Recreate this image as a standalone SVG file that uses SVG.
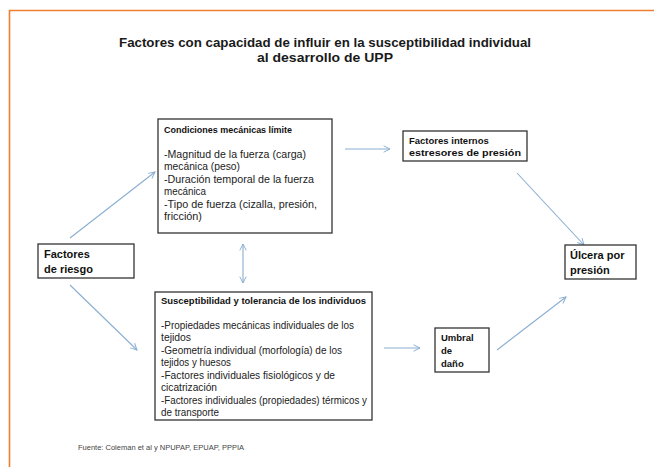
<svg xmlns="http://www.w3.org/2000/svg" width="654" height="467" viewBox="0 0 654 467">
<style>
.t{font-family:"Liberation Sans",Arial,sans-serif;fill:#111}
.ttl{font-size:13.5px;font-weight:bold;fill:#1a1a1a}
.b{font-size:9.5px;font-weight:bold}
.n{font-size:10px;fill:#222}
.big{font-size:11px;font-weight:bold}
.box{fill:#fff;stroke:#333;stroke-width:1.3}
.c{stroke:#8aaed0;stroke-width:1.1;fill:none}
.foot{font-size:6.5px;fill:#444}
</style>
<defs>
<marker id="ah" viewBox="0 0 10 10" refX="9" refY="5" markerWidth="8" markerHeight="8" orient="auto-start-reverse" markerUnits="userSpaceOnUse">
<path d="M1,1 L9,5 L1,9" fill="none" stroke="#8aaed0" stroke-width="1.2"/>
</marker>
</defs>
<rect width="654" height="467" fill="#fff"/>
<path d="M9.5,467 V10.5 H654" fill="none" stroke="#ED7D31" stroke-width="1.6"/>
<g id="title">
<text class="t ttl" x="325" y="47" text-anchor="middle" textLength="412" lengthAdjust="spacingAndGlyphs">Factores con capacidad de influir en la susceptibilidad individual</text>
<text class="t ttl" x="325" y="62" text-anchor="middle" textLength="136" lengthAdjust="spacingAndGlyphs">al desarrollo de UPP</text>
</g>
<g id="connectors">
<line class="c" x1="70" y1="238" x2="155" y2="172" marker-end="url(#ah)"/>
<line class="c" x1="70" y1="285" x2="137" y2="350" marker-end="url(#ah)"/>
<line class="c" x1="243" y1="244" x2="243" y2="283" marker-start="url(#ah)" marker-end="url(#ah)"/>
<line class="c" x1="345" y1="149" x2="390" y2="149" marker-end="url(#ah)"/>
<line class="c" x1="517" y1="173" x2="584" y2="245" marker-end="url(#ah)"/>
<line class="c" x1="384" y1="348" x2="420" y2="348" marker-end="url(#ah)"/>
<line class="c" x1="497" y1="350" x2="566" y2="297" marker-end="url(#ah)"/>
</g>
<g id="condiciones">
<rect class="box" x="158" y="119" width="174" height="114"/>
<text class="t b" x="164" y="133" textLength="128" lengthAdjust="spacingAndGlyphs">Condiciones mecánicas límite</text>
<text class="t n" x="164" y="158" textLength="142" lengthAdjust="spacingAndGlyphs">-Magnitud de la fuerza (carga)</text>
<text class="t n" x="164" y="170" textLength="76" lengthAdjust="spacingAndGlyphs">mecánica  (peso)</text>
<text class="t n" x="164" y="183" textLength="150" lengthAdjust="spacingAndGlyphs">-Duración temporal de la fuerza</text>
<text class="t n" x="164" y="195" textLength="42" lengthAdjust="spacingAndGlyphs">mecánica</text>
<text class="t n" x="164" y="208" textLength="153" lengthAdjust="spacingAndGlyphs">-Tipo de fuerza (cizalla, presión,</text>
<text class="t n" x="164" y="220" textLength="38" lengthAdjust="spacingAndGlyphs">fricción)</text>
</g>
<g id="internos">
<rect class="box" x="403" y="131" width="124" height="30"/>
<text class="t b" x="409" y="144">Factores internos</text>
<text class="t b" x="409" y="156" textLength="112" lengthAdjust="spacingAndGlyphs">estresores de presión</text>
</g>
<g id="riesgo">
<rect class="box" x="38" y="244" width="96" height="34"/>
<text class="t big" x="44" y="258">Factores</text>
<text class="t big" x="44" y="273">de riesgo</text>
</g>
<g id="susceptibilidad">
<rect class="box" x="155" y="292" width="217" height="128"/>
<text class="t b" x="161" y="304" textLength="205" lengthAdjust="spacingAndGlyphs">Susceptibilidad  y tolerancia de los individuos</text>
<text class="t n" x="161" y="329" textLength="193" lengthAdjust="spacingAndGlyphs">-Propiedades mecánicas individuales de los</text>
<text class="t n" x="161" y="341" textLength="30" lengthAdjust="spacingAndGlyphs">tejidos</text>
<text class="t n" x="161" y="354" textLength="181" lengthAdjust="spacingAndGlyphs">-Geometría individual (morfología) de los</text>
<text class="t n" x="161" y="366" textLength="70" lengthAdjust="spacingAndGlyphs">tejidos y huesos</text>
<text class="t n" x="161" y="379" textLength="174" lengthAdjust="spacingAndGlyphs">-Factores individuales fisiológicos y de</text>
<text class="t n" x="161" y="391" textLength="56" lengthAdjust="spacingAndGlyphs">cicatrización</text>
<text class="t n" x="161" y="404" textLength="206" lengthAdjust="spacingAndGlyphs">-Factores individuales (propiedades) térmicos y</text>
<text class="t n" x="161" y="416" textLength="58" lengthAdjust="spacingAndGlyphs">de transporte</text>
</g>
<g id="umbral">
<rect class="box" x="435" y="328" width="54" height="44"/>
<text class="t b" x="441" y="341">Umbral</text>
<text class="t b" x="441" y="354">de</text>
<text class="t b" x="441" y="367">daño</text>
</g>
<g id="ulcera">
<rect class="box" x="565" y="245" width="71" height="34"/>
<text class="t big" x="570" y="259">Úlcera por</text>
<text class="t big" x="570" y="274">presión</text>
</g>
<text class="t foot" x="78" y="450" textLength="166" lengthAdjust="spacingAndGlyphs">Fuente: Coleman  et al y NPUPAP, EPUAP, PPPIA</text>
</svg>
